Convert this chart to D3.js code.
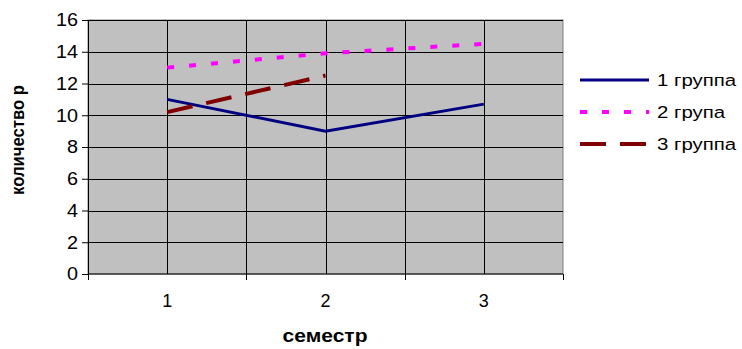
<!DOCTYPE html>
<html>
<head>
<meta charset="utf-8">
<script src="https://cdn.jsdelivr.net/npm/d3@7"></script>
<style>
  body { margin: 0; background: #fff; }
  text { font-family: "Liberation Sans", Arial, sans-serif; }
</style>
</head>
<body>
<svg width="742" height="349"></svg>
<script>
// data
var semesters = ["1", "2", "3"];
var seriesNames = ["1 группа", "2 група", "3 группа"];
var group1 = [11, 9, 10.7];
var group2 = [13, 13.9, 14.5];
var group3 = [10.2, 12.5, null];
var yTicks = [0, 2, 4, 6, 8, 10, 12, 14, 16];

var colors = ["#000080", "#ff00ff", "#800000"];
var dashes = [null, "7,15", "26,14"];
var widths = [3, 4, 4];

var svg = d3.select("svg"),
  margin = { top: 20, right: 179, bottom: 75, left: 88 },
  width = +svg.attr("width") - margin.left - margin.right,
  height = +svg.attr("height") - margin.top - margin.bottom,
  g = svg.append("g")
    .attr("transform", "translate(" + margin.left + "," + margin.top + ")");

var x = d3.scaleBand().domain(semesters).range([0, width]);
var y = d3.scaleLinear().domain([0, 16]).range([height, 0]);

// plot area
g.append("rect")
  .attr("width", width)
  .attr("height", height)
  .attr("fill", "#c0c0c0")
  .attr("stroke", "#808080");

// horizontal gridlines
g.selectAll(".hgrid")
  .data(yTicks.slice(1))
  .enter()
  .append("line")
  .attr("x1", 0)
  .attr("x2", width)
  .attr("y1", function(d) { return Math.round(y(d)) + 0.5; })
  .attr("y2", function(d) { return Math.round(y(d)) + 0.5; })
  .attr("stroke", "#000");

// vertical gridlines at category centres and boundaries
var vlines = semesters.map(function(s) { return x(s) + x.bandwidth() / 2; })
  .concat(semesters.slice(1).map(function(s) { return x(s); }));
g.selectAll(".vgrid")
  .data(vlines)
  .enter()
  .append("line")
  .attr("x1", function(d) { return Math.round(d) + 0.5; })
  .attr("x2", function(d) { return Math.round(d) + 0.5; })
  .attr("y1", 0)
  .attr("y2", height)
  .attr("stroke", "#000");

// y axis
var yAxis = g.append("g")
  .call(d3.axisLeft(y).tickValues(yTicks).tickSize(6).tickPadding(4));
yAxis.select(".domain").attr("stroke", "#000");
yAxis.selectAll("text")
  .attr("font-size", 18)
  .attr("font-family", "Liberation Sans, Arial, sans-serif")
  .attr("fill", "#000")
  .attr("textLength", function(d) { return d >= 10 ? 22 : 11; })
  .attr("lengthAdjust", "spacingAndGlyphs");

// x axis: ticks on boundaries, labels centred
var xAxis = g.append("g")
  .attr("transform", "translate(0," + height + ")");
xAxis.append("line")
  .attr("x1", 0).attr("x2", width)
  .attr("stroke", "#000");
xAxis.selectAll(".tick")
  .data(semesters.map(function(s) { return x(s); }).concat([width]))
  .enter()
  .append("line")
  .attr("x1", function(d) { return Math.round(d) + 0.5; })
  .attr("x2", function(d) { return Math.round(d) + 0.5; })
  .attr("y1", 0).attr("y2", 6)
  .attr("stroke", "#000");
xAxis.selectAll(".lbl")
  .data(semesters)
  .enter()
  .append("text")
  .attr("x", function(d) { return x(d) + x.bandwidth() / 2; })
  .attr("y", 33)
  .attr("text-anchor", "middle")
  .attr("font-size", 18)
  .text(function(d) { return d; });

// series lines
var allSeries = [group1, group2, group3];
var line = d3.line()
  .defined(function(d) { return d != null; })
  .x(function(d, i) { return x(semesters[i]) + x.bandwidth() / 2; })
  .y(function(d) { return y(d); });

allSeries.forEach(function(vals, i) {
  g.append("path")
    .datum(vals)
    .attr("d", line)
    .attr("fill", "none")
    .attr("stroke", colors[i])
    .attr("stroke-width", widths[i])
    .attr("stroke-dasharray", dashes[i]);
});

// axis titles
svg.append("text")
  .attr("transform", "translate(24,140) rotate(-90)")
  .attr("text-anchor", "middle")
  .attr("font-size", 18)
  .attr("font-weight", "bold")
  .attr("textLength", 110)
  .attr("lengthAdjust", "spacingAndGlyphs")
  .text("количество р");

svg.append("text")
  .attr("x", 325)
  .attr("y", 342)
  .attr("text-anchor", "middle")
  .attr("font-size", 19)
  .attr("font-weight", "bold")
  .attr("textLength", 85)
  .attr("lengthAdjust", "spacingAndGlyphs")
  .text("семестр");

// legend
var legend = svg.append("g").attr("transform", "translate(580,80)");
seriesNames.forEach(function(name, i) {
  var row = legend.append("g").attr("transform", "translate(0," + i * 32 + ")");
  row.append("line")
    .attr("x1", 0).attr("x2", 69)
    .attr("stroke", colors[i])
    .attr("stroke-width", widths[i])
    .attr("stroke-dasharray", dashes[i]);
  row.append("text")
    .attr("transform", "translate(77,6) scale(1.2,1)")
    .attr("font-size", 17)
    .text(name);
});
</script>
</body>
</html>
